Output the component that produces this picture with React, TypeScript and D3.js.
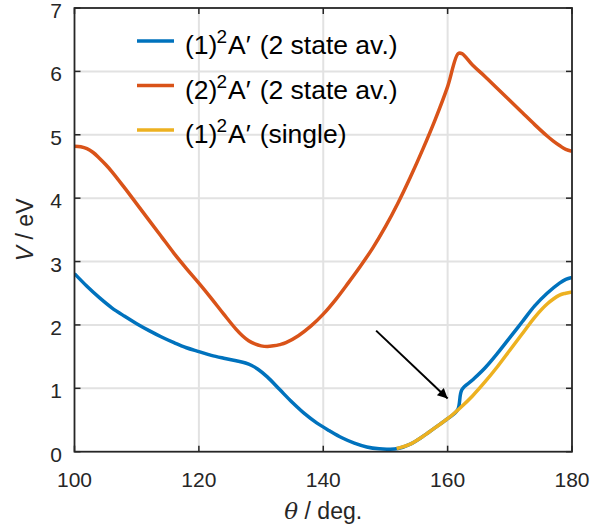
import React from "react";
import * as d3 from "d3";

const xTicks = [100, 120, 140, 160, 180];
const yTicks = [0, 1, 2, 3, 4, 5, 6, 7];

const orangeTheta = [100, 101, 102, 103, 104, 105, 106, 108, 110, 112, 114, 116, 118, 120, 122, 124, 126, 127, 128, 129, 130, 131, 132, 133, 134, 136, 138, 140, 142, 144, 146, 148, 150, 152, 154, 156, 158, 160, 161.7, 162.3, 164, 166, 168, 170, 172, 174, 176, 177, 178, 179, 180];
const orangeV = [4.82, 4.81, 4.78, 4.72, 4.63, 4.53, 4.42, 4.17, 3.91, 3.65, 3.39, 3.13, 2.89, 2.66, 2.42, 2.17, 1.93, 1.83, 1.75, 1.7, 1.67, 1.66, 1.67, 1.69, 1.72, 1.83, 1.98, 2.17, 2.4, 2.66, 2.93, 3.22, 3.55, 3.92, 4.33, 4.77, 5.24, 5.76, 6.28, 6.28, 6.1, 5.92, 5.73, 5.54, 5.35, 5.16, 4.98, 4.9, 4.83, 4.77, 4.74];

const blueTheta = [100, 102, 104, 106, 108, 110, 112, 114, 116, 118, 120, 122, 124, 126, 127.5, 128.5, 129.5, 131, 133, 135, 137, 139, 141, 143, 145, 147, 149, 150.5, 152, 154, 156, 158, 160, 161.6, 162.3, 164, 166, 168, 170, 172, 174, 176, 178, 179, 180];
const blueV = [2.81, 2.61, 2.43, 2.27, 2.14, 2.02, 1.91, 1.81, 1.72, 1.64, 1.58, 1.52, 1.475, 1.435, 1.4, 1.36, 1.3, 1.18, 0.98, 0.78, 0.6, 0.45, 0.33, 0.22, 0.135, 0.075, 0.045, 0.04, 0.05, 0.12, 0.24, 0.38, 0.52, 0.66, 0.98, 1.13, 1.32, 1.55, 1.8, 2.05, 2.3, 2.5, 2.66, 2.72, 2.75];

const yellowTheta = [151.8, 154, 156, 158, 160, 162, 164, 166, 168, 170, 172, 174, 176, 178, 179, 180];
const yellowV = [0.05, 0.12, 0.24, 0.38, 0.52, 0.69, 0.88, 1.1, 1.34, 1.6, 1.86, 2.12, 2.33, 2.47, 2.5, 2.52];

const arrowStart = [148.5, 1.91];
const arrowEnd = [160.0, 0.84];

const legendLabels = [
  { pre: "(1)", sup: "2", post: "A\u2032", rest: "(2 state av.)", color: "#0072BD" },
  { pre: "(2)", sup: "2", post: "A\u2032", rest: "(2 state av.)", color: "#D95319" },
  { pre: "(1)", sup: "2", post: "A\u2032", rest: "(single)", color: "#EDB120" },
];

const W = 592;
const H = 529;
const left = 74.5;
const right = 572;
const top = 8;
const bottom = 451.7;
const axisColor = "#262626";
const font = "'Liberation Sans', Arial, Helvetica, sans-serif";

export default function App() {
  const x = d3.scaleLinear().domain([100, 180]).range([left, right]);
  const y = d3.scaleLinear().domain([0, 7]).range([bottom, top]);
  const line = d3
    .line<[number, number]>()
    .x((d) => x(d[0]))
    .y((d) => y(d[1]))
    .curve(d3.curveCatmullRom.alpha(0.5));

  const zip = (a: number[], b: number[]) => a.map((v, i) => [v, b[i]] as [number, number]);
  const tick = 6;

  return (
    <svg width={W} height={H} style={{ position: "absolute", left: 0, top: 0, background: "#fff" }}>
      <defs>
        <marker id="ah" viewBox="0 0 10 10" refX="10" refY="5" markerWidth="14" markerHeight="10" markerUnits="userSpaceOnUse" orient="auto">
          <path d="M0,0 L10,5 L0,10 z" fill="#000" />
        </marker>
        <clipPath id="clip">
          <rect x={left} y={top} width={right - left} height={bottom - top} />
        </clipPath>
      </defs>
      <rect x={0} y={0} width={W} height={H} fill="#fff" />
      {/* grid */}
      <g stroke="#e2e2e2" strokeWidth={2}>
        {xTicks.slice(1, -1).map((t) => (
          <line key={"gx" + t} x1={x(t)} x2={x(t)} y1={top} y2={bottom} />
        ))}
        {yTicks.slice(1, -1).map((t) => (
          <line key={"gy" + t} x1={left} x2={right} y1={y(t)} y2={y(t)} />
        ))}
      </g>
      {/* lines */}
      <g clipPath="url(#clip)" fill="none" strokeWidth={3.5} strokeLinejoin="round">
        <path d={line(zip(orangeTheta, orangeV)) || ""} stroke="#D95319" />
        <path d={line(zip(blueTheta, blueV)) || ""} stroke="#0072BD" />
        <path d={line(zip(yellowTheta, yellowV)) || ""} stroke="#EDB120" />
      </g>
      {/* arrow */}
      <line
        x1={x(arrowStart[0])}
        y1={y(arrowStart[1])}
        x2={x(arrowEnd[0])}
        y2={y(arrowEnd[1])}
        stroke="#000"
        strokeWidth={2}
        markerEnd="url(#ah)"
      />
      {/* axes box */}
      <rect x={left} y={top} width={right - left} height={bottom - top} fill="none" stroke={axisColor} strokeWidth={1.8} />
      <g stroke={axisColor} strokeWidth={1.5}>
        {xTicks.map((t) => (
          <g key={"tx" + t}>
            <line x1={x(t)} x2={x(t)} y1={bottom} y2={bottom - tick} />
            <line x1={x(t)} x2={x(t)} y1={top} y2={top + tick} />
          </g>
        ))}
        {yTicks.map((t) => (
          <g key={"ty" + t}>
            <line x1={left} x2={left + tick} y1={y(t)} y2={y(t)} />
            <line x1={right} x2={right - tick} y1={y(t)} y2={y(t)} />
          </g>
        ))}
      </g>
      {/* tick labels */}
      <g fill={axisColor} fontFamily={font} fontSize={21}>
        {xTicks.map((t) => (
          <text key={"lx" + t} x={x(t)} y={487} textAnchor="middle">
            {t}
          </text>
        ))}
        {yTicks.map((t) => (
          <text key={"ly" + t} x={62} y={y(t) + 10} textAnchor="end">
            {t}
          </text>
        ))}
      </g>
      {/* axis labels */}
      <text x={(left + right) / 2} y={519} textAnchor="middle" fontFamily={font} fontSize={23} fill={axisColor}>
        <tspan fontFamily="'DejaVu Serif', 'Liberation Serif', serif" fontStyle="italic">θ</tspan>
        <tspan> / deg.</tspan>
      </text>
      <text
        transform={`translate(33,${(top + bottom) / 2}) rotate(-90)`}
        textAnchor="middle"
        fontFamily={font}
        fontSize={23}
        fill={axisColor}
      >
        <tspan fontStyle="italic">V</tspan>
        <tspan> / eV</tspan>
      </text>
      {/* legend */}
      <g fontFamily={font} fontSize={26.5} fill="#000">
        {legendLabels.map((l, i) => {
          const ly = 41 + i * 44.5;
          return (
            <g key={"lg" + i}>
              <line x1={137} x2={174} y1={ly} y2={ly} stroke={l.color} strokeWidth={3.5} />
              <text x={185} y={ly + 13}>
                {l.pre}
                <tspan dx={-1} dy={-11} fontSize={19}>{l.sup}</tspan>
                <tspan dx={1} dy={11}>{l.post}</tspan>
                <tspan dx={9}>{l.rest}</tspan>
              </text>
            </g>
          );
        })}
      </g>
    </svg>
  );
}
